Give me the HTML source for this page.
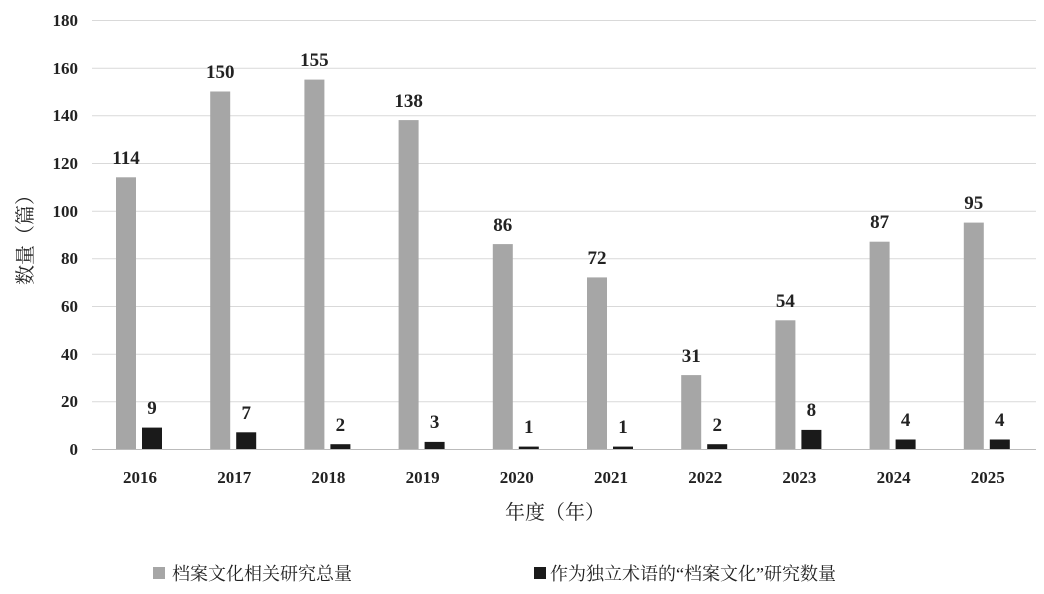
<!DOCTYPE html>
<html><head><meta charset="utf-8"><style>
body{margin:0;background:#fff}
svg{display:block}
text{font-family:"Liberation Serif","Noto Serif CJK SC",serif;fill:#222}
.n text{font-weight:bold}
</style></head><body>
<svg width="1044" height="594" viewBox="0 0 1044 594" xmlns="http://www.w3.org/2000/svg">
<g stroke="#d9d9d9" stroke-width="1">
<line x1="92" x2="1036" y1="20.5" y2="20.5"/><line x1="92" x2="1036" y1="68.2" y2="68.2"/>
<line x1="92" x2="1036" y1="115.8" y2="115.8"/><line x1="92" x2="1036" y1="163.5" y2="163.5"/>
<line x1="92" x2="1036" y1="211.2" y2="211.2"/><line x1="92" x2="1036" y1="258.8" y2="258.8"/>
<line x1="92" x2="1036" y1="306.5" y2="306.5"/><line x1="92" x2="1036" y1="354.2" y2="354.2"/>
<line x1="92" x2="1036" y1="401.8" y2="401.8"/>
</g>
<line x1="92" x2="1036" y1="449.5" y2="449.5" stroke="#bbb"/>
<g class="n" font-size="17" text-anchor="end">
<text x="78" y="26">180</text><text x="78" y="74">160</text><text x="78" y="121">140</text>
<text x="78" y="169">120</text><text x="78" y="217">100</text><text x="78" y="264">80</text>
<text x="78" y="312">60</text><text x="78" y="360">40</text><text x="78" y="407">20</text>
<text x="78" y="455">0</text>
</g>
<g fill="#a6a6a6">
<rect x="116" y="177.3" width="20" height="271.7"/>
<rect x="210.2" y="91.5" width="20" height="357.5"/>
<rect x="304.4" y="79.6" width="20" height="369.4"/>
<rect x="398.6" y="120.1" width="20" height="328.9"/>
<rect x="492.8" y="244.1" width="20" height="204.9"/>
<rect x="587" y="277.4" width="20" height="171.6"/>
<rect x="681.2" y="375.1" width="20" height="73.9"/>
<rect x="775.4" y="320.3" width="20" height="128.7"/>
<rect x="869.6" y="241.7" width="20" height="207.3"/>
<rect x="963.8" y="222.6" width="20" height="226.4"/>
</g>
<g fill="#1a1a1a">
<rect x="142" y="427.6" width="20" height="21.4"/>
<rect x="236.2" y="432.3" width="20" height="16.7"/>
<rect x="330.4" y="444.2" width="20" height="4.8"/>
<rect x="424.6" y="441.9" width="20" height="7.1"/>
<rect x="518.8" y="446.6" width="20" height="2.4"/>
<rect x="613" y="446.6" width="20" height="2.4"/>
<rect x="707.2" y="444.2" width="20" height="4.8"/>
<rect x="801.4" y="429.9" width="20" height="19.1"/>
<rect x="895.6" y="439.5" width="20" height="9.5"/>
<rect x="989.8" y="439.5" width="20" height="9.5"/>
</g>
<g class="n" font-size="19" text-anchor="middle">
<text x="126" y="164">114</text><text x="220.2" y="78">150</text><text x="314.4" y="66">155</text>
<text x="408.6" y="107">138</text><text x="502.8" y="231">86</text><text x="597" y="264">72</text>
<text x="691.2" y="362">31</text><text x="785.4" y="307">54</text><text x="879.6" y="228">87</text>
<text x="973.8" y="209">95</text>
<text x="152" y="414">9</text><text x="246.2" y="419">7</text><text x="340.4" y="431">2</text>
<text x="434.6" y="428">3</text><text x="528.8" y="433">1</text><text x="623" y="433">1</text>
<text x="717.2" y="431">2</text><text x="811.4" y="416">8</text><text x="905.6" y="426">4</text>
<text x="999.8" y="426">4</text>
</g>
<g class="n" font-size="17" text-anchor="middle">
<text x="140" y="483">2016</text><text x="234.2" y="483">2017</text><text x="328.4" y="483">2018</text>
<text x="422.6" y="483">2019</text><text x="516.8" y="483">2020</text><text x="611" y="483">2021</text>
<text x="705.2" y="483">2022</text><text x="799.4" y="483">2023</text><text x="893.6" y="483">2024</text>
<text x="987.8" y="483">2025</text>
</g>
<text transform="translate(32,235) rotate(-90)" font-size="20" text-anchor="middle">数量（篇）</text>
<text x="555" y="519" font-size="20" text-anchor="middle">年度（年）</text>
<rect x="153" y="567" width="12" height="12" fill="#a6a6a6"/>
<text x="172" y="580" font-size="18">档案文化相关研究总量</text>
<rect x="534" y="567" width="12" height="12" fill="#1a1a1a"/>
<text x="550" y="580" font-size="18">作为独立术语的“档案文化”研究数量</text>
</svg>
</body></html>
